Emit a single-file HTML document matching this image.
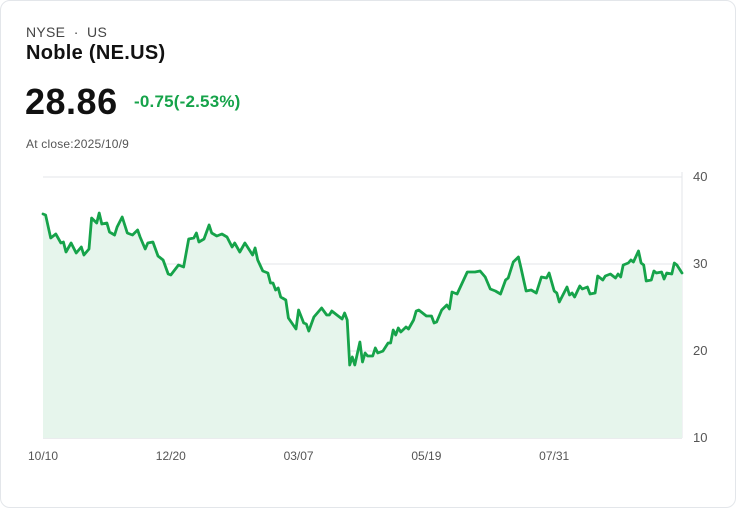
<!DOCTYPE html>
<html><head><meta charset="utf-8">
<style>
body{margin:0;background:#fff;font-family:"Liberation Sans",sans-serif;}
.card{position:absolute;left:0;top:0;width:734px;height:506px;border:1px solid #e3e6ea;border-radius:10px;background:#fff;}
.t{position:absolute;white-space:nowrap;}
</style></head><body>
<div class="card">
<div class="t" style="left:25px;top:23px;font-size:14px;color:#444;letter-spacing:0.3px;">NYSE &nbsp;·&nbsp; US</div>
<div class="t" style="left:25px;top:41px;font-size:20px;font-weight:bold;color:#111;letter-spacing:0.3px;">Noble (NE.US)</div>
<div class="t" style="left:24px;top:80px;font-size:36px;font-weight:bold;color:#111;letter-spacing:0.5px;">28.86</div>
<div class="t" style="left:133px;top:91px;font-size:17px;font-weight:bold;color:#16a34a;letter-spacing:0.2px;">-0.75(-2.53%)</div>
<div class="t" style="left:25px;top:136px;font-size:12px;color:#555;letter-spacing:0.2px;">At close:2025/10/9</div>
<svg id="chart" width="736" height="508" style="position:absolute;left:-1px;top:-1px;"></svg>
</div>
<script>
const days=[0,1,3,5,7,8,9,11,13,15,16,18,19,21,22,23,25,26,28,29,31,33,35,37,38,40,41,43,45,47,49,50,53,55,57,59,60,61,63,65,66,68,70,72,74,75,77,79,80,82,83,84,86,88,89,90,91,92,93,95,96,99,100,102,103,104,106,109,111,112,113,115,117,118,119,120,121,122,124,125,126,127,129,130,131,133,135,136,137,138,139,140,142,143,145,146,147,150,152,153,154,156,158,159,160,162,164,166,169,171,173,175,177,179,181,182,184,186,187,189,191,193,195,197,198,200,201,202,205,206,207,208,210,211,213,214,216,217,219,220,222,224,225,226,227,229,230,231,233,234,235,236,238,239,240,242,243,244,246,247,248,250];
const prices=[35.75,35.63,32.99,33.45,32.41,32.53,31.38,32.41,31.26,31.95,31.03,31.72,35.29,34.71,35.86,34.6,34.71,33.68,33.33,34.25,35.4,33.56,33.33,33.91,33.1,31.72,32.41,32.53,30.92,30.46,28.85,28.74,29.89,29.66,32.87,32.99,33.56,32.53,32.87,34.48,33.56,33.22,33.45,33.1,31.95,32.41,31.38,32.41,31.95,31.03,31.84,30.46,29.2,28.97,27.82,27.82,27.01,27.24,26.21,25.86,23.79,22.53,24.71,23.22,23.1,22.3,23.91,24.94,24.14,24.14,24.6,24.14,23.68,24.37,23.56,18.39,19.31,18.39,21.03,18.74,19.77,19.43,19.43,20.34,19.77,19.99,20.92,20.92,22.41,21.84,22.64,22.18,22.76,22.53,23.56,24.6,24.71,24.02,24.02,23.22,23.33,24.71,25.29,24.83,26.78,26.55,27.82,29.08,29.08,29.2,28.51,27.13,26.9,26.55,28.16,28.39,30.23,30.8,29.54,26.9,27.01,26.67,28.51,28.39,28.97,26.9,26.67,25.63,27.36,26.44,26.67,26.21,27.47,27.13,27.36,26.55,26.67,28.62,28.16,28.62,28.85,28.39,28.85,28.51,29.89,30.11,30.46,30.23,31.49,30.11,29.89,28.05,28.16,29.2,28.97,29.08,28.28,28.97,28.85,30.11,29.89,28.97];
const yTicks=[40,30,20,10];
const xLabels=["10/10","12/20","03/07","05/19","07/31"];
const xLabelDays=[0,50,100,150,200];
const NS="http://www.w3.org/2000/svg";
const svg=document.getElementById('chart');
const X0=43,X1=682,Y0=438,Y1=177;
const xs=d=>X0+(X1-X0)*d/250;
const ys=v=>Y0-(Y0-Y1)*(v-10)/30;
function mk(t,a){const e=document.createElementNS(NS,t);for(const k in a)e.setAttribute(k,a[k]);svg.appendChild(e);return e;}
yTicks.forEach(v=>{
  const g=mk('line',{x1:X0,x2:X1,y1:ys(v),y2:ys(v),stroke:v===10?'#d5d8dc':'#e3e5e8','stroke-width':1});
  
  
  const t=mk('text',{x:693,y:ys(v)+4,'font-size':13,fill:'#555','font-family':'Liberation Sans, sans-serif'});
  t.textContent=v;
  
  
});
const ax=mk('line',{x1:X1,x2:X1,y1:Y1-5,y2:Y0,stroke:'#e3e5e8','stroke-width':1});


xLabels.forEach((l,i)=>{
  const t=mk('text',{x:xs(xLabelDays[i]),y:460,'font-size':12,fill:'#555','text-anchor':'middle','font-family':'Liberation Sans, sans-serif'});
  t.textContent=l;
  
  
});
let pts=days.map((d,i)=>xs(d).toFixed(1)+','+ys(prices[i]).toFixed(1));
const area=mk('path',{d:'M'+xs(days[0])+','+Y0+' L'+pts.join(' L')+' L'+xs(days[days.length-1])+','+Y0+' Z',fill:'#e6f5ec'});


const line=mk('polyline',{points:pts.join(' '),fill:'none',stroke:'#16a34a','stroke-width':2.8,'stroke-linejoin':'round','stroke-linecap':'round'});


</script>
</body></html>
